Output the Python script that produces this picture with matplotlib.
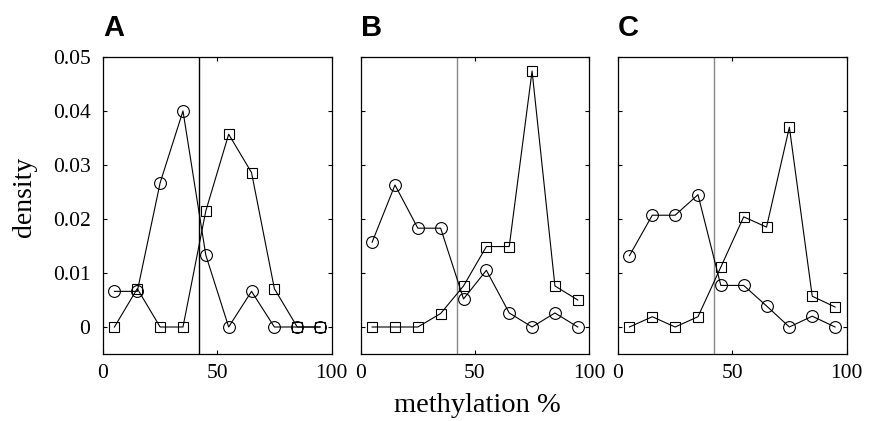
import matplotlib
matplotlib.use("Agg")
import matplotlib.pyplot as plt

x_bins = [5, 15, 25, 35, 45, 55, 65, 75, 85, 95]

a_circles = [0.0066, 0.0066, 0.0267, 0.0400, 0.0133, 0.0, 0.0066, 0.0, 0.0, 0.0]
a_squares = [0.0, 0.0071, 0.0, 0.0, 0.0215, 0.0357, 0.0286, 0.0071, 0.0, 0.0]

b_circles = [0.0157, 0.0263, 0.0183, 0.0183, 0.0052, 0.0105, 0.0026, 0.0, 0.0026, 0.0]
b_squares = [0.0, 0.0, 0.0, 0.0025, 0.0076, 0.0149, 0.0149, 0.0474, 0.0076, 0.0050]

c_circles = [0.0132, 0.0207, 0.0207, 0.0245, 0.0077, 0.0077, 0.0039, 0.0, 0.0020, 0.0]
c_squares = [0.0, 0.0019, 0.0, 0.0019, 0.0111, 0.0204, 0.0185, 0.0370, 0.0057, 0.0037]

threshold = 42
panel_labels = ["A", "B", "C"]
x_ticks = [0, 50, 100]
y_ticks = [0, 0.01, 0.02, 0.03, 0.04, 0.05]
y_ticklabels = ["0", "0.01", "0.02", "0.03", "0.04", "0.05"]

plt.rcParams['font.family'] = ['Liberation Serif', 'DejaVu Serif']

fig = plt.figure(figsize=(8.76, 4.21), dpi=100)
lefts = [103 / 876, 360.7 / 876, 618 / 876]
w = 228.5 / 876
bottom = 1 - 354 / 421
h = 297 / 421

data = [(a_circles, a_squares, 'black'),
        (b_circles, b_squares, '#888888'),
        (c_circles, c_squares, '#888888')]

for i, (circ, sq, vcol) in enumerate(data):
    ax = fig.add_axes([lefts[i], bottom, w, h])
    ax.axvline(threshold, color=vcol, lw=1.0, zorder=1)
    ax.plot(x_bins, circ, color='black', lw=0.8, marker='o', ms=8.5,
            mfc='none', mec='black', mew=0.8, zorder=3)
    ax.plot(x_bins, sq, color='black', lw=0.8, marker='s', ms=6.8,
            mfc='none', mec='black', mew=0.8, zorder=3)
    ax.set_xlim(0, 100)
    ax.set_ylim(-0.005, 0.05)
    ax.set_xticks(x_ticks)
    ax.set_yticks(y_ticks)
    if i == 0:
        ax.set_yticklabels(y_ticklabels)
    else:
        ax.set_yticklabels([])
    ax.tick_params(direction='in', top=True, right=True, length=3,
                   width=0.8, labelsize=15.5, pad=7)
    ax.tick_params(axis='y', pad=9)
    for s in ax.spines.values():
        s.set_linewidth(0.9)
    ax.text(0.0, 1.072, panel_labels[i], transform=ax.transAxes,
            fontsize=21, fontweight='bold', family='Liberation Sans',
            ha='left', va='baseline')

fig.text(25 / 876, 1 - 197 / 421, 'density', rotation=90, fontsize=20,
         ha='center', va='center')
fig.text(477 / 876, 1 - 412 / 421, 'methylation %', fontsize=20.5,
         ha='center', va='baseline')

fig.savefig('out.png', dpi=100)
